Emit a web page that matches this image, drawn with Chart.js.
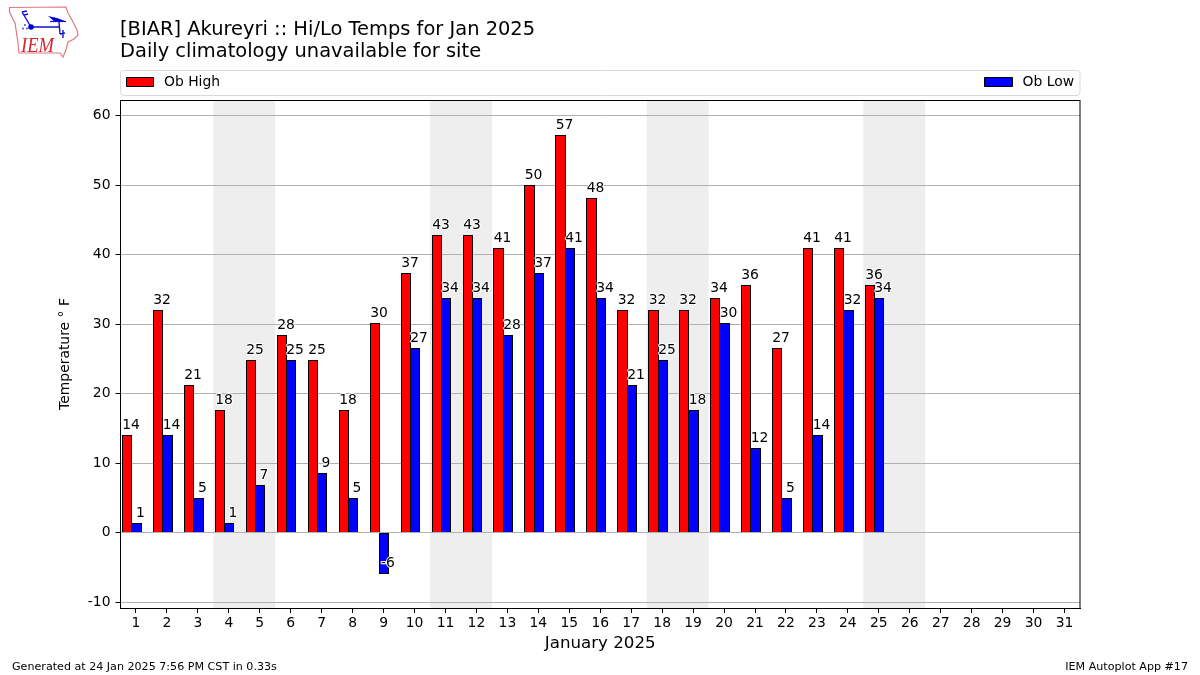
<!DOCTYPE html>
<html>
<head>
<meta charset="utf-8">
<style>
  html, body { margin: 0; padding: 0; background: #fff; }
  #wrap { position: relative; width: 1200px; height: 675px; }
  #hiloChart { display: block; }
  #logo { position: absolute; left: 0; top: 0; }
</style>
<script src="https://cdn.jsdelivr.net/npm/chart.js@4"></script>
</head>
<body>
<div id="wrap">
  <canvas id="hiloChart" width="1200" height="675"></canvas>
  <svg id="logo" width="85" height="62" viewBox="0 0 85 62">
    <path d="M9.5 7.5 L66 7 L68 13 L72 20 L77 30 L78 35 L74 39 L68 42 L66 50 L63 57 L60 53 L19 53 L18 43 L15 23 L9.5 12 Z" fill="none" stroke="#e07a80" stroke-width="1.2"/>
    <path d="M31 27 L60 27 M22 12 L31 27 M22 12 L27 11 M24 15 L28 14 M59 22 L60 34 M63 30 L63 38 M60 34 L65 33" fill="none" stroke="#1010d0" stroke-width="1.4"/>
    <path d="M48 16 L57 18 L65 21 L55 22 Z" fill="#0000d0"/>
    <path d="M50 21.5 L66 21.5" stroke="#1010d0" stroke-width="1.2"/>
    <circle cx="31" cy="27" r="2.8" fill="#0000d0"/>
    <circle cx="25" cy="25" r="0.9" fill="#3a3ad8"/>
    <circle cx="23" cy="28.5" r="0.9" fill="#3a3ad8"/>
    <circle cx="27" cy="28.5" r="0.9" fill="#3a3ad8"/>
    <text x="21" y="52" font-family="Liberation Serif" font-style="italic" font-size="22" fill="#d6272f" textLength="33" lengthAdjust="spacingAndGlyphs">IEM</text>
  </svg>
</div>
<script>
// January 2025 days (deg F)
const days = [1,2,3,4,5,6,7,8,9,10,11,12,13,14,15,16,17,18,19,20,21,22,23,24,25];
const obHigh = [14,32,21.2,17.6,24.8,28.4,24.8,17.6,30.2,37.4,42.8,42.8,41,50,57.2,48.2,32,32,32,33.8,35.6,26.6,41,41,35.6];
const obLow = [1.4,14,5,1.4,6.8,24.8,8.6,5,-5.8,26.6,33.8,33.8,28.4,37.4,41,33.8,21.2,24.8,17.6,30.2,12.2,5,14,32,33.8];
const weekends = [[4,5],[11,12],[18,19],[25,26]];
const xTicks = Array.from({ length: 31 }, (_, i) => i + 1);
const yTicks = [-10,0,10,20,30,40,50,60];
const titleLines = ['[BIAR] Akureyri :: Hi/Lo Temps for Jan 2025', 'Daily climatology unavailable for site'];
const footerLeft = 'Generated at 24 Jan 2025 7:56 PM CST in 0.33s';
const footerRight = 'IEM Autoplot App #17';

const FONT = '"DejaVu Sans"';

// grey weekend bands, under the grid
const weekendBands = {
  id: 'weekendBands',
  beforeDraw(chart) {
    const { ctx, chartArea, scales } = chart;
    ctx.save();
    ctx.fillStyle = '#eeeeee';
    weekends.forEach(w => {
      const x0 = scales.x.getPixelForValue(w[0] - 0.5);
      const x1 = scales.x.getPixelForValue(w[1] + 0.5);
      ctx.fillRect(x0, chartArea.top, x1 - x0, chartArea.bottom - chartArea.top);
    });
    ctx.restore();
  }
};

// snap bars to whole pixels so the black outlines stay crisp and neighbours share one edge
const snapBars = {
  id: 'snapBars',
  afterDatasetsUpdate(chart) {
    chart.data.datasets.forEach((ds, di) => {
      chart.getDatasetMeta(di).data.forEach(bar => {
        const negative = bar.y > bar.base;
        const l = Math.round(bar.x - bar.width / 2);
        const r = Math.round(bar.x + bar.width / 2) + 1;
        bar.x = (l + r) / 2;
        bar.width = r - l;
        const top = Math.round(Math.min(bar.y, bar.base));
        const bottom = Math.round(Math.max(bar.y, bar.base)) + 1;
        bar.y = negative ? bottom : top;
        bar.base = negative ? top : bottom;
      });
    });
  }
};

// numbers over the bars, titles, legend row, footer
const extras = {
  id: 'extras',
  afterDraw(chart) {
    const { ctx, chartArea, scales } = chart;
    ctx.save();

    // zero line runs over the bars, same pixel row as the grid line
    const zero = Math.round(scales.y.getPixelForValue(0) - 0.5) + 0.5;
    ctx.strokeStyle = '#b0b0b0';
    ctx.lineWidth = 1;
    ctx.beginPath();
    ctx.moveTo(chartArea.left, zero);
    ctx.lineTo(chartArea.right, zero);
    ctx.stroke();

    // plot frame
    ctx.strokeStyle = '#000';
    ctx.strokeRect(120.5, 100.5, 959.5, chartArea.bottom - 100);

    // value labels
    ctx.font = '13.9px ' + FONT;
    ctx.textAlign = 'center';
    ctx.textBaseline = 'alphabetic';
    ctx.lineJoin = 'round';
    chart.data.datasets.forEach((ds, di) => {
      const meta = chart.getDatasetMeta(di);
      ds.data.forEach((pt, i) => {
        const bar = meta.data[i];
        const txt = String(Math.round(pt.y));
        const y = scales.y.getPixelForValue(pt.y) - 6;
        ctx.strokeStyle = '#fff';
        ctx.lineWidth = 2;
        ctx.strokeText(txt, bar.x + 4, y);
        ctx.fillStyle = '#000';
        ctx.fillText(txt, bar.x + 4, y);
      });
    });

    // title
    ctx.textAlign = 'left';
    ctx.fillStyle = '#000';
    ctx.font = '19.44px ' + FONT;
    ctx.fillText(titleLines[0], 120, 35);
    ctx.fillText(titleLines[1], 120, 57);

    // legend box
    ctx.strokeStyle = '#d9d9d9';
    ctx.lineWidth = 1;
    ctx.beginPath();
    ctx.roundRect(120.5, 70.5, 959.5, 25, 3);
    ctx.stroke();
    ctx.font = '13.9px ' + FONT;
    ctx.strokeStyle = '#000';
    ctx.fillStyle = chart.data.datasets[0].backgroundColor;
    ctx.fillRect(126.5, 77.5, 27, 9);
    ctx.strokeRect(126.5, 77.5, 27, 9);
    ctx.fillStyle = '#000';
    ctx.fillText(chart.data.datasets[0].label, 164, 86);
    ctx.fillStyle = chart.data.datasets[1].backgroundColor;
    ctx.fillRect(984.5, 77.5, 28, 9);
    ctx.strokeRect(984.5, 77.5, 28, 9);
    ctx.fillStyle = '#000';
    ctx.textAlign = 'right';
    ctx.fillText(chart.data.datasets[1].label, 1074, 86);

    // footer
    ctx.font = '11.11px ' + FONT;
    ctx.textAlign = 'left';
    ctx.fillText(footerLeft, 12, 670);
    ctx.textAlign = 'right';
    ctx.fillText(footerRight, 1188, 670);
    ctx.restore();
  }
};

new Chart(document.getElementById('hiloChart'), {
  type: 'bar',
  data: {
    datasets: [
      {
        label: 'Ob High',
        data: days.map((d, i) => ({ x: d, y: obHigh[i] })),
        backgroundColor: '#ff0000',
        borderColor: '#000000',
        borderWidth: 1,
        borderSkipped: false,
        xAxisID: 'xBars'
      },
      {
        label: 'Ob Low',
        data: days.map((d, i) => ({ x: d, y: obLow[i] })),
        backgroundColor: '#0000ff',
        borderColor: '#000000',
        borderWidth: 1,
        borderSkipped: false,
        xAxisID: 'xBars'
      }
    ]
  },
  options: {
    responsive: false,
    animation: false,
    events: [],
    categoryPercentage: 0.6,
    barPercentage: 1,
    layout: { padding: { left: 57, right: 120, top: 100, bottom: 21 } },
    font: { family: FONT },
    plugins: {
      legend: { display: false },
      tooltip: { enabled: false }
    },
    scales: {
      // bars sit a little left of the day tick in the original
      xBars: {
        type: 'linear',
        display: false,
        offset: false,
        min: 0.65,
        max: 31.65
      },
      x: {
        type: 'linear',
        position: 'bottom',
        offset: false,
        min: 0.5,
        max: 31.5,
        afterFit(scale) { scale.height = 46; },
        afterBuildTicks(scale) {
          scale.ticks = xTicks.map(v => ({ value: v }));
        },
        grid: { offset: false, drawOnChartArea: false, color: '#000', tickColor: '#000', tickLength: 5 },
        border: { color: '#000' },
        ticks: { color: '#000', maxRotation: 0, autoSkip: false, padding: 2, font: { family: FONT, size: 13.9 } },
        title: { display: true, text: 'January 2025', color: '#000', padding: { top: 3, bottom: 0 }, font: { family: FONT, size: 16.67 } }
      },
      y: {
        type: 'linear',
        position: 'left',
        min: -10.82,
        max: 62.24,
        afterFit(scale) { scale.width = 63.5; },
        afterBuildTicks(scale) {
          scale.ticks = yTicks.map(v => ({ value: v }));
        },
        grid: { color: '#b0b0b0', tickColor: '#000', tickLength: 5 },
        border: { color: '#000' },
        ticks: { color: '#000', padding: 5, font: { family: FONT, size: 13.9 } },
        title: { display: true, text: 'Temperature ° F', color: '#000', padding: { top: 0, bottom: 0 }, font: { family: FONT, size: 13.9 } }
      }
    }
  },
  plugins: [weekendBands, snapBars, extras]
});
</script>
</body>
</html>
